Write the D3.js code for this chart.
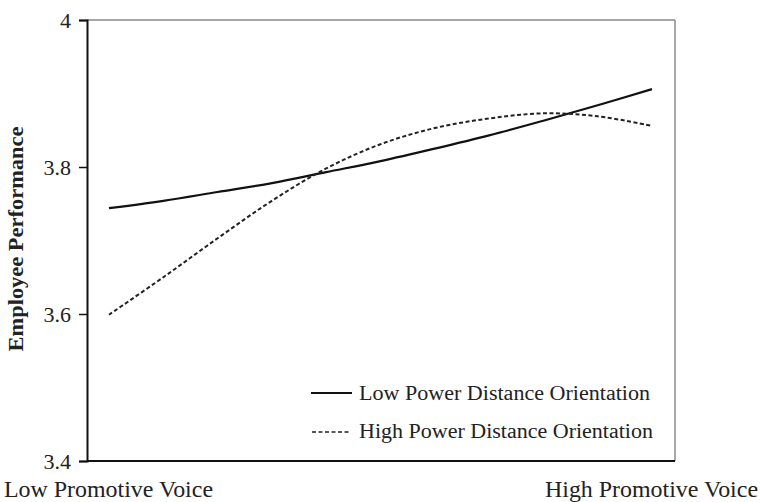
<!DOCTYPE html>
<html>
<head>
<meta charset="utf-8">
<script src="https://cdn.jsdelivr.net/npm/d3@7"></script>
<style>
  html, body { margin: 0; padding: 0; background: #fff; }
  svg { display: block; }
  svg text { font-family: "Times New Roman", "Liberation Serif", Times, serif !important; fill: #222; }
</style>
</head>
<body>
<svg id="chart" width="761" height="502"></svg>
<script>
// ---- data ----
const xPositions = [0, 0.1, 0.2, 0.3, 0.4, 0.5, 0.6, 0.7, 0.8, 0.9, 1.0];
const lowPDO  = [3.744, 3.754, 3.766, 3.778, 3.793, 3.808, 3.825, 3.843, 3.863, 3.884, 3.906];
const highPDO = [3.599, 3.650, 3.703, 3.754, 3.798, 3.831, 3.853, 3.866, 3.873, 3.869, 3.856];
const seriesNames = ["Low Power Distance Orientation", "High Power Distance Orientation"];
const yTicks = [3.4, 3.6, 3.8, 4];
const xLabels = ["Low Promotive Voice", "High Promotive Voice"];
const yTitle = "Employee Performance";

// ---- layout ----
const svg = d3.select("#chart");
const plotL = 87, plotR = 675, plotT = 20, plotB = 461;

const x = d3.scaleLinear().domain([-0.0405, 1.0424]).range([plotL, plotR]);
const y = d3.scaleLinear().domain([3.4, 4]).range([plotB, plotT]);

// frame: top & right in gray
svg.append("line").attr("x1", plotL).attr("x2", plotR).attr("y1", plotT).attr("y2", plotT)
  .attr("stroke", "#8a8a8a").attr("stroke-width", 1.5);
svg.append("line").attr("x1", plotR).attr("x2", plotR).attr("y1", plotT).attr("y2", plotB)
  .attr("stroke", "#8a8a8a").attr("stroke-width", 1.5);

// y axis
const yAxis = d3.axisLeft(y).tickValues(yTicks).tickSize(8).tickPadding(8)
  .tickFormat(d => d === 4 ? "4" : d3.format(".1f")(d));
const gy = svg.append("g").attr("transform", `translate(${plotL},0)`).call(yAxis);
gy.attr("font-family", null);
gy.select(".domain").attr("stroke", "#111").attr("stroke-width", 2);
gy.selectAll(".tick line").attr("stroke", "#111").attr("stroke-width", 1.5);
gy.selectAll(".tick text").attr("font-size", 22)
  .attr("fill", "#222").attr("dy", "0.34em");

// bottom axis line
svg.append("line").attr("x1", plotL).attr("x2", plotR).attr("y1", plotB).attr("y2", plotB)
  .attr("stroke", "#111").attr("stroke-width", 2);

// x labels
svg.append("text").attr("x", 4).attr("y", 497).attr("font-size", 23)
  .attr("textLength", 209).attr("lengthAdjust", "spacingAndGlyphs").text(xLabels[0]);
svg.append("text").attr("x", 545).attr("y", 497).attr("font-size", 23)
  .attr("textLength", 213).attr("lengthAdjust", "spacingAndGlyphs").text(xLabels[1]);

// y title
svg.append("text").attr("transform", "translate(23,239) rotate(-90)")
  .attr("text-anchor", "middle").attr("font-size", 21).attr("font-weight", "bold")
  .attr("textLength", 225).attr("lengthAdjust", "spacingAndGlyphs").text(yTitle);

// lines
const line = d3.line().x(d => x(d[0])).y(d => y(d[1])).curve(d3.curveCatmullRom);
const lowData = xPositions.map((t, i) => [t, lowPDO[i]]);
const highData = xPositions.map((t, i) => [t, highPDO[i]]);

svg.append("path").datum(lowData).attr("d", line).attr("fill", "none")
  .attr("stroke", "#111").attr("stroke-width", 2.2);
svg.append("path").datum(highData).attr("d", line).attr("fill", "none")
  .attr("stroke", "#222").attr("stroke-width", 2).attr("stroke-dasharray", "4,2.5");

// legend
const legend = svg.append("g");
legend.append("line").attr("x1", 311).attr("x2", 352).attr("y1", 393).attr("y2", 393)
  .attr("stroke", "#111").attr("stroke-width", 2);
legend.append("text").attr("x", 359).attr("y", 400).attr("font-size", 20)
  .attr("textLength", 291).attr("lengthAdjust", "spacingAndGlyphs").text(seriesNames[0]);
legend.append("line").attr("x1", 312).attr("x2", 350).attr("y1", 432).attr("y2", 432)
  .attr("stroke", "#222").attr("stroke-width", 1.5).attr("stroke-dasharray", "4,2.5");
legend.append("text").attr("x", 359).attr("y", 438).attr("font-size", 20)
  .attr("textLength", 294).attr("lengthAdjust", "spacingAndGlyphs").text(seriesNames[1]);
</script>
</body>
</html>
